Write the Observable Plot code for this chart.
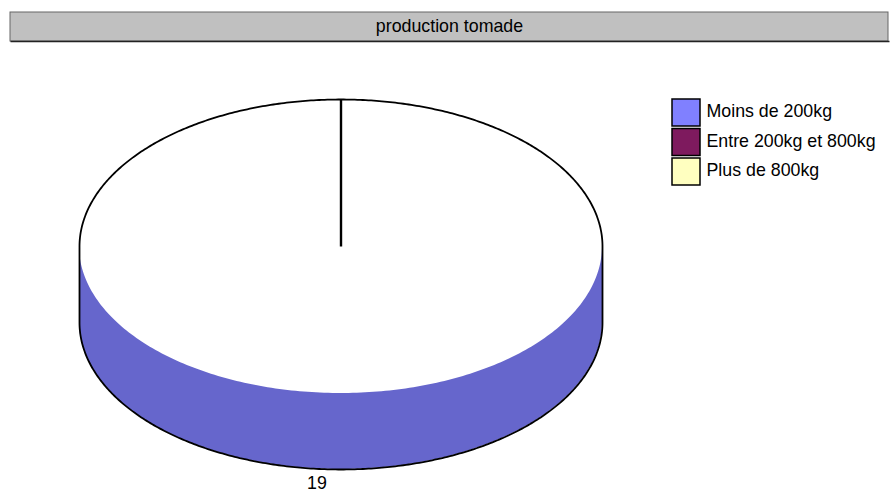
<!DOCTYPE html>
<html>
<head>
<meta charset="utf-8">
<script src="https://cdn.jsdelivr.net/npm/d3@7"></script>
<script src="https://cdn.jsdelivr.net/npm/@observablehq/plot@0.6"></script>
<style>
  html, body { margin: 0; padding: 0; background: #fff; }
  #chart svg { display: block; }
</style>
</head>
<body>
<div id="chart"></div>
<script>
const title = "production tomade";
const categories = ["Moins de 200kg", "Entre 200kg et 800kg", "Plus de 800kg"];
const values = [19, 0, 0];
const colors = ["#8080ff", "#7e1a5e", "#ffffc0"];
const sideColors = ["#6666cc", "#651548", "#cccc9a"];

// geometry (pixels)
const W = 896, H = 495;
const cx = 340.5, cy = 246, rx = 261.5, ry = 147, depth = 76;
const font = "'Liberation Sans', Arial, Helvetica, sans-serif";
const fs = 17.8;

const arcs = d3.pie().sort(null)(values);
const px = a => cx + rx * Math.sin(a);
const py = a => cy - ry * Math.cos(a);

// side faces (visible front half: angles between PI/2 and 3PI/2)
const sidePts = [];
arcs.forEach((arc, i) => {
  const a0 = Math.max(arc.startAngle, Math.PI / 2);
  const a1 = Math.min(arc.endAngle, 3 * Math.PI / 2);
  if (a1 <= a0 || arc.value <= 0) return;
  const n = 200;
  for (let k = 0; k <= n; k++) {
    const a = a0 + (a1 - a0) * k / n;
    sidePts.push({ x: px(a), y1: py(a), y2: py(a) + depth, k: categories[i] });
  }
});

// outer silhouette
const outline = [];
const N = 300;
for (let k = 0; k <= N; k++) {
  const a = 3 * Math.PI / 2 + Math.PI * k / N;
  outline.push({ x: px(a), y: py(a) });
}
for (let k = 0; k <= N; k++) {
  const a = Math.PI / 2 + Math.PI * k / N;
  outline.push({ x: px(a), y: py(a) + depth });
}
outline.push(outline[0]);

const radii = arcs.filter(a => a.value > 0).map(a => ({ x1: cx, y1: cy, x2: px(a.startAngle), y2: py(a.startAngle) }));

const labels = arcs.filter(a => a.value > 0).map(a => {
  const m = (a.startAngle + a.endAngle) / 2;
  return { x: px(m) - 24, y: py(m) + depth + 14, text: String(a.value) };
});

const legend = categories.map((c, i) => ({ c, i }));

const chart = Plot.plot({
  width: W, height: H,
  margin: 0,
  x: { domain: [0, W], range: [0, W], axis: null },
  y: { domain: [0, H], range: [0, H], axis: null },
  color: { domain: categories, range: colors },
  style: { fontFamily: font, background: "#fff" },
  marks: [
    Plot.rect([0], { x1: 10, x2: 888, y1: 12, y2: 41, fill: "#c0c0c0", stroke: "#666", strokeWidth: 1 }),
    Plot.link([0], { x1: 10, x2: 889, y1: 41, y2: 41, stroke: "#222", strokeWidth: 1.5 }),
    Plot.text([title], { x: 449, y: 25.5, text: d => d, fontSize: fs, fill: "#000" }),
    Plot.areaY(sidePts, { x: "x", y1: "y1", y2: "y2", z: "k", fill: d => sideColors[categories.indexOf(d.k)], curve: "linear" }),
    Plot.line(outline, { x: "x", y: "y", stroke: "#000", strokeWidth: 1.8, curve: "linear" }),
    Plot.link(radii, { x1: "x1", y1: "y1", x2: "x2", y2: "y2", stroke: "#000", strokeWidth: 2.4 }),
    Plot.text(labels, { x: "x", y: "y", text: "text", fontSize: fs, fill: "#000" }),
    Plot.rect(legend, { x1: 672, x2: 700, y1: d => 99 + d.i * 29.5, y2: d => 126 + d.i * 29.5, fill: "c", stroke: "#000", strokeWidth: 1.5 }),
    Plot.text(legend, { x: 706, y: d => 111 + d.i * 29.5, text: "c", textAnchor: "start", fontSize: fs, fill: "#000" })
  ]
});
document.getElementById("chart").append(chart);
</script>
</body>
</html>
